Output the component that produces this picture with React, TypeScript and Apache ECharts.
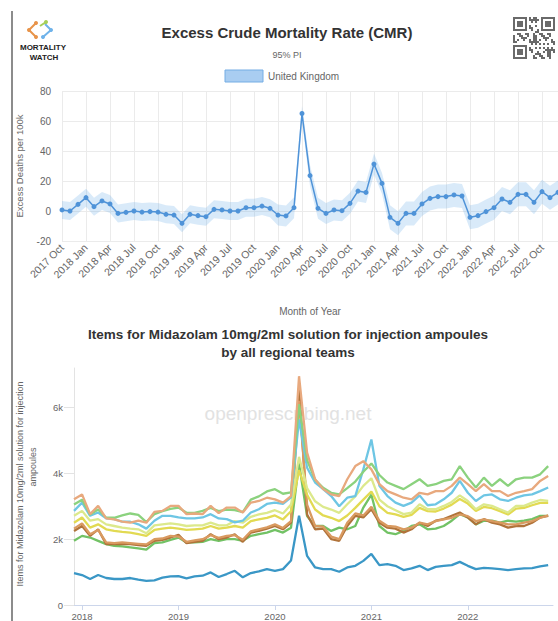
import React, { useEffect, useRef } from "react";
import * as echarts from "echarts";

// ---------- Top chart: Excess Crude Mortality Rate (United Kingdom) ----------
const cmrMonths = [
  "2017 Oct", "2017 Nov", "2017 Dec",
  "2018 Jan", "2018 Feb", "2018 Mar", "2018 Apr", "2018 May", "2018 Jun", "2018 Jul", "2018 Aug", "2018 Sep", "2018 Oct", "2018 Nov", "2018 Dec",
  "2019 Jan", "2019 Feb", "2019 Mar", "2019 Apr", "2019 May", "2019 Jun", "2019 Jul", "2019 Aug", "2019 Sep", "2019 Oct", "2019 Nov", "2019 Dec",
  "2020 Jan", "2020 Feb", "2020 Mar", "2020 Apr", "2020 May", "2020 Jun", "2020 Jul", "2020 Aug", "2020 Sep", "2020 Oct", "2020 Nov", "2020 Dec",
  "2021 Jan", "2021 Feb", "2021 Mar", "2021 Apr", "2021 May", "2021 Jun", "2021 Jul", "2021 Aug", "2021 Sep", "2021 Oct", "2021 Nov", "2021 Dec",
  "2022 Jan", "2022 Feb", "2022 Mar", "2022 Apr", "2022 May", "2022 Jun", "2022 Jul", "2022 Aug", "2022 Sep", "2022 Oct", "2022 Nov", "2022 Dec",
];
const cmrExcess = [
  0.7, 0, 4.4, 8.9, 2.9, 6.7, 4.7, -1.6, -0.9, 0, -0.7, -0.4, -0.7, -2.2, -2.7,
  -8.2, -2.2, -3.1, -3.8, 1.1, 0.7, 0, 0, 2.2, 2.2, 3.3, 1.8,
  -2.7, -3.3, 2.2, 65, 23.6, 1.8, -1.6, 0.7, 0.2, 5.1, 13.3, 12.4,
  31.3, 18.4, -4.2, -8.2, -1.6, -1.6, 4.7, 8.4, 9.6, 9.6, 10.7, 10,
  -4.2, -3.1, -0.4, 2.2, 8, 5.8, 11.1, 11.1, 5.8, 12.9, 8.9, 12.4,
];
const cmrLower = [
  -5.3, -6, -1.6, 2.9, -3.1, 0.7, -1.3, -7.6, -6.9, -6, -6.7, -6.4, -6.7, -8.2, -8.7,
  -14.2, -8.2, -9.1, -9.8, -4.9, -5.3, -6, -6, -3.8, -3.8, -2.7, -4.2,
  -9.7, -10.3, -4.8, 60, 16.6, -5.2, -8.6, -6.3, -6.8, -1.9, 6.3, 5.4,
  24.3, 11.4, -12.2, -16.2, -9.6, -9.6, -3.3, 0.4, 1.6, 1.6, 2.7, 2,
  -12.2, -11.1, -8.4, -5.8, 0, -2.2, 3.1, 3.1, -2.2, 4.9, 0.9, 4.4,
];
const cmrUpper = [
  6.7, 6, 10.4, 14.9, 8.9, 12.7, 10.7, 4.4, 5.1, 6, 5.3, 5.6, 5.3, 3.8, 3.3,
  -2.2, 3.8, 2.9, 2.2, 7.1, 6.7, 6, 6, 8.2, 8.2, 9.3, 7.8,
  4.3, 3.7, 9.2, 70, 30.6, 8.8, 5.4, 7.7, 7.2, 12.1, 20.3, 19.4,
  38.3, 25.4, 3.8, -0.2, 6.4, 6.4, 12.7, 16.4, 17.6, 17.6, 18.7, 18,
  3.8, 4.9, 7.6, 10.2, 16, 13.8, 19.1, 19.1, 13.8, 20.9, 16.9, 20.4,
];

// ---------- Bottom chart: Midazolam items by regional team (thousands) ----------
const rxMonths = [
  "2017-12",
  "2018-01", "2018-02", "2018-03", "2018-04", "2018-05", "2018-06", "2018-07", "2018-08", "2018-09", "2018-10", "2018-11", "2018-12",
  "2019-01", "2019-02", "2019-03", "2019-04", "2019-05", "2019-06", "2019-07", "2019-08", "2019-09", "2019-10", "2019-11", "2019-12",
  "2020-01", "2020-02", "2020-03", "2020-04", "2020-05", "2020-06", "2020-07", "2020-08", "2020-09", "2020-10", "2020-11", "2020-12",
  "2021-01", "2021-02", "2021-03", "2021-04", "2021-05", "2021-06", "2021-07", "2021-08", "2021-09", "2021-10", "2021-11", "2021-12",
  "2022-01", "2022-02", "2022-03", "2022-04", "2022-05", "2022-06", "2022-07", "2022-08", "2022-09", "2022-10", "2022-11",
];
const rxYearTickIdx = [1, 13, 25, 37, 49];
const rxYTicks = [0, 2, 4, 6];

const rxBlue = [
  0.97, 0.91, 0.79, 0.91, 0.82, 0.79, 0.79, 0.82, 0.77, 0.73, 0.75, 0.83, 0.87, 0.88, 0.81, 0.87, 0.89, 0.99, 0.85, 0.94,
  1.04, 0.84, 0.97, 1.02, 1.09, 1.04, 1.09, 1.35, 2.71, 1.49, 1.14, 1.09, 1.09, 1.01, 1.14, 1.19, 1.34, 1.55, 1.21, 1.24, 1.19,
  1.06, 1.11, 1.19, 1.06, 1.16, 1.19, 1.21, 1.31, 1.19, 1.09, 1.13, 1.11, 1.09, 1.06, 1.09, 1.11, 1.12, 1.17, 1.21,
];
const rxGreen2 = [
  1.95, 2.1, 2.05, 1.95, 1.85, 1.8, 1.78, 1.75, 1.72, 1.68, 1.88, 1.9, 1.98, 2.05, 1.9, 1.9, 1.92, 2.0, 1.95, 2.0,
  2.0, 1.95, 2.1, 2.15, 2.2, 2.28, 2.2, 2.35, 4.3, 2.7, 2.4, 2.4, 2.25, 2.35, 2.3, 2.4, 2.96, 3.35, 2.4, 2.2, 2.15,
  2.25, 2.4, 2.45, 2.3, 2.32, 2.4, 2.56, 2.76, 2.66, 2.45, 2.56, 2.56, 2.5, 2.56, 2.53, 2.56, 2.61, 2.71, 2.71,
];
const rxBrown = [
  2.25, 2.4, 2.1, 2.3, 1.85, 1.85, 1.85, 1.85, 1.82, 1.8, 1.95, 1.98, 2.05, 2.13, 1.88, 1.92, 1.95, 2.15, 2.0, 2.05,
  2.15, 1.92, 2.2, 2.25, 2.32, 2.4, 2.3, 2.5, 6.6, 2.75, 2.3, 2.32, 2.0, 1.95, 2.4, 2.71, 2.66, 2.91, 2.5, 2.35, 2.32,
  2.2, 2.3, 2.5, 2.4, 2.56, 2.61, 2.71, 2.81, 2.66, 2.45, 2.61, 2.5, 2.45, 2.35, 2.4, 2.4, 2.5, 2.66, 2.71,
];
const rxOrange = [
  2.32, 2.48, 2.15, 2.28, 1.9, 1.88, 1.9, 1.88, 1.86, 1.84, 2.0, 2.02, 2.1, 2.08, 1.92, 1.96, 2.0, 2.12, 2.04, 2.1,
  2.12, 1.98, 2.24, 2.3, 2.36, 2.45, 2.34, 2.55, 6.2, 3.05, 2.4, 2.38, 2.08, 2.0, 2.5, 2.78, 2.72, 2.98, 2.56, 2.4, 2.38,
  2.3, 2.35, 2.5, 2.45, 2.55, 2.6, 2.65, 2.75, 2.7, 2.55, 2.6, 2.55, 2.5, 2.45, 2.45, 2.5, 2.55, 2.65, 2.72,
];
const rxYellow = [
  2.5, 2.66, 2.35, 2.45, 2.3, 2.25, 2.22, 2.2, 2.15, 2.1, 2.28, 2.32, 2.35, 2.32, 2.28, 2.3, 2.32, 2.4, 2.32, 2.35,
  2.4, 2.35, 2.55, 2.6, 2.65, 2.72, 2.6, 2.85, 4.1, 3.35, 2.9, 2.72, 2.65, 2.55, 2.72, 2.95, 3.2, 3.45, 3.0, 2.8, 2.75,
  2.68, 2.74, 2.95, 2.85, 2.84, 2.93, 3.05, 3.22, 3.08, 2.86, 2.98, 2.94, 2.85, 2.75, 2.93, 2.95, 3.03, 3.1, 3.1,
];
const rxPaleYellow = [
  2.71, 2.86, 2.56, 2.61, 2.45, 2.4, 2.35, 2.32, 2.3, 2.18, 2.42, 2.45, 2.48, 2.45, 2.4, 2.42, 2.42, 2.5, 2.42, 2.42,
  2.55, 2.5, 2.68, 2.75, 2.8, 2.88, 2.78, 3.05, 4.5, 3.55, 3.15, 2.98, 2.9, 2.8, 3.06, 3.3, 3.62, 3.85, 3.2, 3.0, 2.88,
  2.76, 2.81, 3.06, 2.91, 2.91, 3.01, 3.13, 3.33, 3.16, 2.91, 3.06, 3.01, 2.91, 2.81, 3.01, 3.01, 3.11, 3.19, 3.16,
];
const rxCyan = [
  2.86, 3.11, 2.71, 2.81, 2.63, 2.61, 2.53, 2.53, 2.45, 2.32, 2.56, 2.71, 2.71, 2.66, 2.63, 2.63, 2.66, 2.76, 2.63, 2.61,
  2.51, 2.56, 2.81, 2.91, 3.07, 3.11, 3.07, 3.27, 5.64, 4.17, 3.72, 3.52, 3.31, 3.0, 3.26, 3.31, 4.12, 5.03, 3.62, 3.31, 3.11,
  3.01, 3.11, 3.33, 3.03, 3.06, 3.21, 3.41, 3.77, 3.41, 3.16, 3.33, 3.36, 3.21, 3.16, 3.26, 3.33, 3.36, 3.46, 3.57,
];
const rxGreen1 = [
  3.05, 3.2, 2.75, 2.9, 2.65, 2.65, 2.72, 2.78, 2.74, 2.52, 2.76, 2.85, 2.92, 2.96, 2.8, 2.8, 2.86, 2.95, 2.85, 2.9,
  2.88, 2.82, 3.2, 3.3, 3.45, 3.52, 3.38, 3.42, 6.1, 4.4, 3.8, 3.56, 3.41, 3.36, 3.55, 3.75, 4.05, 4.3, 3.95, 3.72, 3.62,
  3.52, 3.67, 3.82, 3.62, 3.67, 3.77, 3.82, 4.22, 3.87, 3.57, 3.87, 3.62, 3.82, 3.62, 3.82, 3.87, 3.87, 3.97, 4.22,
];
const rxTan = [
  3.21, 3.36, 2.76, 3.01, 2.63, 2.6, 2.53, 2.5, 2.56, 2.5, 2.83, 2.86, 3.01, 3.01, 2.76, 2.78, 2.76, 3.01, 2.79, 2.96,
  2.96, 2.81, 3.11, 3.16, 3.26, 3.21, 3.11, 3.31, 6.95, 4.63, 3.82, 3.52, 3.36, 3.31, 3.82, 4.22, 4.37, 4.12, 3.67, 3.46, 3.36,
  3.26, 3.21, 3.41, 3.36, 3.46, 3.46, 3.62, 3.87, 3.67, 3.46, 3.67, 3.46, 3.46, 3.31, 3.41, 3.46, 3.52, 3.77, 3.92,
];

const rxNames = [
  "London", "North East and Yorkshire", "Midlands", "East of England", "South West",
  "North West", "South East", "Midlands and East", "North of England",
];
const rxValues = [rxBlue, rxGreen2, rxBrown, rxOrange, rxYellow, rxPaleYellow, rxCyan, rxGreen1, rxTan];
const rxColors = ["#3a97c6", "#72c265", "#b0733a", "#d99a60", "#e2da52", "#dce98c", "#6ec6e4", "#8bd27e", "#e8a97e"];

// QR-like decoration path (decorative only)
function qrPath(): string {
  const n = 21;
  const dark = (r: number, c: number) => {
    const inFinder = (r0: number, c0: number) => {
      const rr = r - r0, cc = c - c0;
      if (rr < 0 || rr > 6 || cc < 0 || cc > 6) return null;
      if (rr === 0 || rr === 6 || cc === 0 || cc === 6) return true;
      if (rr >= 2 && rr <= 4 && cc >= 2 && cc <= 4) return true;
      return false;
    };
    for (const [r0, c0] of [[0, 0], [0, 14], [14, 0]]) {
      const f = inFinder(r0, c0);
      if (f !== null) return f;
    }
    if ((r === 7 && c <= 7) || (c === 7 && r <= 7) || (r === 7 && c >= 13) || (c === 13 && r <= 7) || (r === 13 && c <= 7) || (c === 7 && r >= 13)) return false;
    return ((r * r * 3 + c * 7 + r * c * 5) % 11) < 5;
  };
  let d = "";
  for (let r = 0; r < n; r++) for (let c = 0; c < n; c++) if (dark(r, c)) d += `M${c * 2} ${r * 2}h2v2h-2z`;
  return d;
}
echarts.graphic.registerShape("qrcode", echarts.graphic.extendPath(qrPath(), {}));

const FONT = "'Liberation Sans', Arial, Helvetica, sans-serif";

export default function App() {
  const ref = useRef<HTMLDivElement>(null);
  useEffect(() => {
    if (!ref.current) return;
    const chart = echarts.init(ref.current, undefined, { renderer: "svg" });
    const bandDiff = cmrUpper.map((u, i) => +(u - cmrLower[i]).toFixed(2));

    const rxSeries = rxValues.map((vals, k) => ({
      name: rxNames[k],
      type: "line",
      xAxisIndex: 1,
      yAxisIndex: 1,
      data: vals.map((v, i) => [i, v]),
      symbol: "none",
      lineStyle: { width: 2.3, color: rxColors[k] },
      itemStyle: { color: rxColors[k] },
      z: 2 + k,
    }));

    const option: any = {
      animation: false,
      textStyle: { fontFamily: FONT },
      grid: [
        { left: 62, right: 0, top: 91, bottom: 380 },
        { left: 70, right: 5, top: 368, bottom: 15 },
      ],
      xAxis: [
        {
          gridIndex: 0,
          type: "category",
          data: cmrMonths,
          boundaryGap: false,
          axisLine: { show: false },
          axisTick: { show: false },
          axisLabel: { interval: 2, rotate: 45, fontSize: 10.5, color: "#666", margin: 5 },
          splitLine: { show: true, interval: 2, lineStyle: { color: "#ebebeb" } },
          name: "Month of Year",
          nameLocation: "middle",
          nameGap: 65,
          nameTextStyle: { fontSize: 10, color: "#666" },
        },
        {
          gridIndex: 1,
          type: "value",
          min: -0.5,
          max: 59.6,
          axisLine: { show: true, lineStyle: { color: "#ccd6eb" } },
          axisTick: { show: true, customValues: rxYearTickIdx, length: 5, lineStyle: { color: "#ccd6eb" } },
          axisLabel: {
            customValues: rxYearTickIdx,
            formatter: (v: number) => rxMonths[Math.round(v)].slice(0, 4),
            fontSize: 9.5,
            color: "#666",
            margin: 6,
          },
          splitLine: { show: false },
        },
      ],
      yAxis: [
        {
          gridIndex: 0,
          type: "value",
          min: -20,
          max: 80,
          interval: 20,
          axisLine: { show: false },
          axisTick: { show: false },
          axisLabel: { fontSize: 10, color: "#666", margin: 11 },
          splitLine: { lineStyle: { color: "#ebebeb" } },
          name: "Excess Deaths per 100k",
          nameLocation: "middle",
          nameGap: 38,
          nameTextStyle: { fontSize: 9.5, color: "#666" },
        },
        {
          gridIndex: 1,
          type: "value",
          min: 0,
          max: 7.2,
          axisLine: { show: true, lineStyle: { color: "#e3e3e3" } },
          axisTick: { show: true, customValues: rxYTicks, length: 10, lineStyle: { color: "#e3e3e3" } },
          axisLabel: {
            customValues: rxYTicks,
            formatter: (v: number) => (v === 0 ? "0" : `${v}k`),
            fontSize: 9.5,
            color: "#666",
            margin: 7,
          },
          splitLine: { show: false },
        },
      ],
      series: [
        {
          name: "PI lower",
          type: "line",
          xAxisIndex: 0,
          yAxisIndex: 0,
          data: cmrLower,
          stack: "pi",
          stackStrategy: "all",
          symbol: "none",
          lineStyle: { opacity: 0 },
          z: 1,
        },
        {
          name: "95% PI",
          type: "line",
          xAxisIndex: 0,
          yAxisIndex: 0,
          data: bandDiff,
          stack: "pi",
          stackStrategy: "all",
          symbol: "none",
          lineStyle: { opacity: 0 },
          areaStyle: { color: "rgba(120,178,235,0.4)" },
          z: 1,
        },
        {
          name: "United Kingdom",
          type: "line",
          xAxisIndex: 0,
          yAxisIndex: 0,
          data: cmrExcess,
          symbol: "circle",
          symbolSize: 5,
          lineStyle: { width: 1.5, color: "#4f93d8" },
          itemStyle: { color: "#4f93d8" },
          z: 3,
        },
        ...rxSeries,
      ],
      graphic: [
        { type: "line", shape: { x1: 12, y1: 11, x2: 12, y2: 621 }, style: { stroke: "#8c8c8c", lineWidth: 2 } },
        // logo
        { type: "polyline", shape: { points: [[36, 23], [29, 30], [36, 37]] }, style: { stroke: "#e8944a", lineWidth: 2, fill: null } },
        { type: "polyline", shape: { points: [[43, 37], [51, 30], [45, 24]] }, style: { stroke: "#6fb3ea", lineWidth: 2, fill: null } },
        { type: "line", shape: { x1: 40, y1: 26, x2: 46, y2: 22 }, style: { stroke: "#a5cf5a", lineWidth: 2 } },
        { type: "circle", shape: { cx: 36, cy: 23, r: 2 }, style: { fill: "#e8944a" } },
        { type: "circle", shape: { cx: 29, cy: 30, r: 2 }, style: { fill: "#e8944a" } },
        { type: "circle", shape: { cx: 36, cy: 37, r: 2 }, style: { fill: "#e8944a" } },
        { type: "circle", shape: { cx: 46, cy: 22, r: 2 }, style: { fill: "#a5cf5a" } },
        { type: "circle", shape: { cx: 51, cy: 30, r: 2 }, style: { fill: "#6fb3ea" } },
        { type: "circle", shape: { cx: 43, cy: 37, r: 2 }, style: { fill: "#6fb3ea" } },
        { type: "text", x: 43, y: 47, style: { text: "MORTALITY", fontSize: 8, fontWeight: "bold", fill: "#222", align: "center", verticalAlign: "middle", fontFamily: FONT } },
        { type: "text", x: 44, y: 57, style: { text: "WATCH", fontSize: 8, fontWeight: "bold", fill: "#222", align: "center", verticalAlign: "middle", fontFamily: FONT } },
        // QR decoration
        { type: "qrcode", x: 513, y: 17, style: { fill: "#6a6a6a" } },
        // top chart titles and legend
        { type: "text", x: 287, y: 32, style: { text: "Excess Crude Mortality Rate (CMR)", fontSize: 15, fontWeight: "bold", fill: "#333", align: "center", verticalAlign: "middle", fontFamily: FONT } },
        { type: "text", x: 287, y: 55, style: { text: "95% PI", fontSize: 9, fill: "#666", align: "center", verticalAlign: "middle", fontFamily: FONT } },
        { type: "rect", shape: { x: 225, y: 70, width: 38, height: 12 }, style: { fill: "#a9cdf1", stroke: "#74ade4", lineWidth: 1 } },
        { type: "text", x: 268, y: 76, style: { text: "United Kingdom", fontSize: 10, fill: "#666", align: "left", verticalAlign: "middle", fontFamily: FONT } },
        // bottom chart titles
        { type: "text", x: 288, y: 334, style: { text: "Items for Midazolam 10mg/2ml solution for injection ampoules", fontSize: 13.5, fontWeight: "bold", fill: "#333", align: "center", verticalAlign: "middle", fontFamily: FONT } },
        { type: "text", x: 288, y: 352, style: { text: "by all regional teams", fontSize: 13.5, fontWeight: "bold", fill: "#333", align: "center", verticalAlign: "middle", fontFamily: FONT } },
        { type: "text", x: 288, y: 413, z: -1, style: { text: "openprescribing.net", fontSize: 19, fill: "#e2e2e2", align: "center", verticalAlign: "middle", fontFamily: FONT } },
        { type: "text", x: 20, y: 484, rotation: Math.PI / 2, style: { text: "Items for Midazolam 10mg/2ml solution for injection", fontSize: 9, fill: "#666", align: "center", verticalAlign: "middle", fontFamily: FONT } },
        { type: "text", x: 33, y: 467, rotation: Math.PI / 2, style: { text: "ampoules", fontSize: 9, fill: "#666", align: "center", verticalAlign: "middle", fontFamily: FONT } },
      ],
    };
    chart.setOption(option);
    return () => chart.dispose();
  }, []);
  return <div ref={ref} style={{ position: "fixed", left: 0, top: 0, width: 558, height: 621, background: "#fff" }} />;
}
